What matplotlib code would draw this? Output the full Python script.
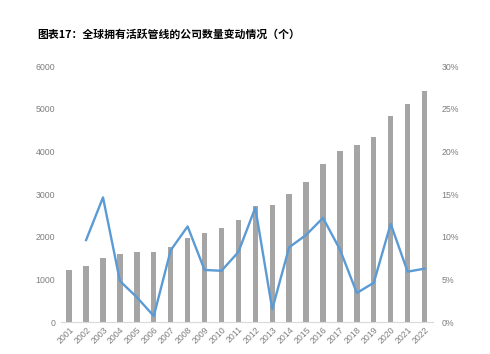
import matplotlib
matplotlib.use("Agg")
import matplotlib.pyplot as plt
import numpy as np

years = [str(y) for y in range(2001, 2023)]
companies = [1219, 1318, 1508, 1586, 1633, 1640, 1766, 1961, 2086, 2211, 2391,
             2719, 2750, 2992, 3289, 3695, 4008, 4141, 4328, 4820, 5109, 5422]
growth = [None, 9.6, 14.6, 4.8, 2.9, 0.7, 8.4, 11.2, 6.1, 6.0, 8.2,
          13.4, 1.5, 8.75, 10.2, 12.2, 8.5, 3.4, 4.6, 11.5, 5.9, 6.25]
left_ticks = [0, 1000, 2000, 3000, 4000, 5000, 6000]
right_ticks = [0, 5, 10, 15, 20, 25, 30]
title = "图表17：全球拥有活跃管线的公司数量变动情况（个）"

plt.rcParams['font.family'] = ['Noto Sans CJK SC', 'DejaVu Sans']
tick_font = 'Liberation Sans'

fig = plt.figure(figsize=(4.9, 3.54), dpi=100)
ax = fig.add_axes([60.7/490, 1-322/354, (433-60.7)/490, (322-66)/354])
x = np.arange(len(years))
ax.bar(x, companies, width=0.32, color='#A5A5A5', zorder=2)
ax.set_xlim(-0.5, len(years)-0.5)
ax.set_ylim(0, 6000)
ax.set_yticks(left_ticks)
ax.set_yticklabels([str(t) for t in left_ticks], family=tick_font)
ax.set_xticks(x)
ax.set_xticklabels(years, rotation=45, ha='right', rotation_mode='anchor', family=tick_font)
for s in ['top', 'right', 'left']:
    ax.spines[s].set_visible(False)
ax.spines['bottom'].set_color('#D9D9D9')
ax.spines['bottom'].set_linewidth(0.8)
ax.tick_params(axis='both', length=0, labelsize=6.3, colors='#7F7F7F', pad=4)
ax.tick_params(axis='x', pad=2)

ax2 = ax.twinx()
gx = [i for i, g in enumerate(growth) if g is not None]
gy = [g for g in growth if g is not None]
ax2.plot(gx, gy, color='#5B9BD5', linewidth=1.7, zorder=3)
ax2.set_ylim(0, 30)
ax2.set_yticks(right_ticks)
ax2.set_yticklabels([f"{t}%" for t in right_ticks], family=tick_font)
for s in ['top', 'right', 'left', 'bottom']:
    ax2.spines[s].set_visible(False)
ax2.tick_params(axis='both', length=0, labelsize=6.3, colors='#7F7F7F', pad=6)

fig.text(37/490, 1-34/354, title, fontsize=7.8, fontweight='bold', va='center', ha='left', color='#000000')

fig.savefig('out.png', dpi=100)
